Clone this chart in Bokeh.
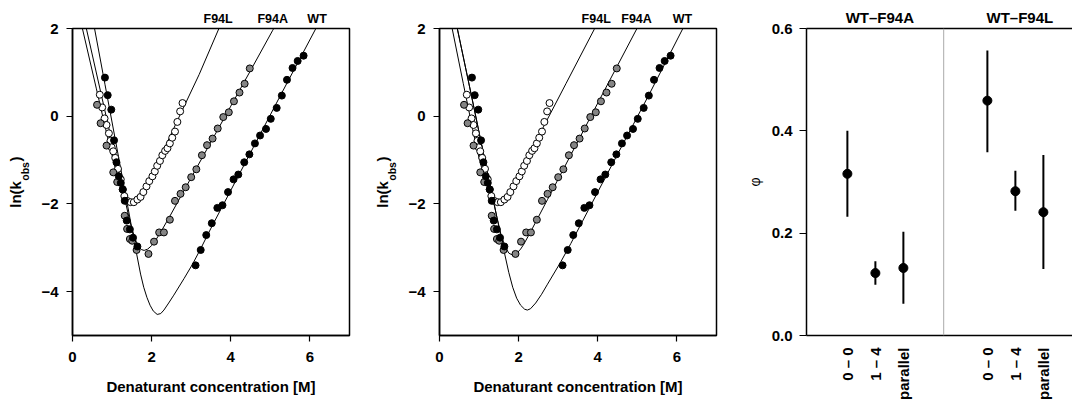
import math
from bokeh.plotting import figure
from bokeh.layouts import row
from bokeh.models import Range1d, FixedTicker, Span, LinearAxis, PrintfTickFormatter
from bokeh.embed import file_html
from bokeh.resources import INLINE

FONT = "Liberation Sans"

# ---------------- kinetics data (same measurements in both chevron panels) ----------------
wt_x = [0.82, 0.89, 0.98, 1.05, 1.11, 1.17, 1.22, 1.27, 1.32, 1.37, 1.45, 1.53, 1.64,
        3.11, 3.24, 3.38, 3.52, 3.66, 3.79, 3.93, 4.07, 4.19, 4.34, 4.47, 4.61, 4.74,
        4.89, 5.01, 5.16, 5.29, 5.42, 5.56, 5.69, 5.84]
wt_y = [0.88, 0.48, 0.15, -0.55, -1.05, -1.37, -1.52, -1.67, -1.93, -2.38, -2.58, -2.77, -2.97,
        -3.40, -3.05, -2.71, -2.44, -2.09, -2.03, -1.73, -1.44, -1.33, -1.05, -0.87, -0.62, -0.44,
        -0.29, -0.06, 0.19, 0.47, 0.83, 1.10, 1.26, 1.38]

f94a_x = [0.62, 0.71, 0.86, 1.03, 1.13, 1.32, 1.38, 1.45, 1.51, 1.62, 1.92, 2.06, 2.19, 2.31,
          2.46, 2.59, 2.73, 2.86, 3.00, 3.13, 3.27, 3.40, 3.54, 3.67, 3.81, 3.95, 4.08, 4.22,
          4.35, 4.48]
f94a_y = [0.26, -0.16, -0.67, -1.28, -1.50, -2.27, -2.57, -2.80, -2.84, -3.05, -3.14, -2.86, -2.65, -2.65,
          -2.36, -1.93, -1.77, -1.62, -1.39, -1.21, -0.89, -0.66, -0.51, -0.28, -0.02, 0.09, 0.34, 0.54,
          0.74, 1.09]

f94l_x = [0.69, 0.75, 0.81, 0.86, 0.92, 0.96, 0.99, 1.03, 1.08, 1.15, 1.22, 1.27, 1.31, 1.38,
          1.47, 1.55, 1.64, 1.72, 1.79, 1.87, 1.94, 2.02, 2.08, 2.14, 2.21, 2.27, 2.34, 2.40,
          2.46, 2.52, 2.59, 2.65, 2.72, 2.78]
f94l_y = [0.49, 0.20, -0.05, -0.20, -0.39, -0.56, -0.71, -0.80, -0.95, -1.20, -1.44, -1.67, -1.82, -1.93,
          -1.96, -1.96, -1.90, -1.84, -1.73, -1.60, -1.48, -1.37, -1.26, -1.13, -1.02, -0.89, -0.79, -0.73,
          -0.62, -0.49, -0.35, -0.13, 0.11, 0.30]

# ---------------- fitted curves, panel 1 ----------------
fit1_wt_x = [0.50, 0.557, 0.82, 1.10, 1.37, 1.595, 1.72, 1.80, 1.88, 1.96, 2.04, 2.14, 2.23, 2.31,
             2.43, 2.56, 2.82, 3.03, 3.24, 3.49, 3.75, 4.50, 5.30, 6.15, 6.30]
fit1_wt_y = [2.28, 2.00, 0.73, -0.62, -1.93, -3.02, -3.60, -3.90, -4.13, -4.31, -4.44, -4.52, -4.50, -4.42,
             -4.26, -4.08, -3.70, -3.38, -3.02, -2.57, -2.12, -0.83, 0.55, 2.00, 2.26]
fit1_a_x = [0.30, 0.35, 0.80, 1.20, 1.45, 1.58, 1.66, 1.74, 1.81, 1.90, 2.00, 2.10, 2.25, 2.46,
            3.00, 4.00, 4.48, 5.06, 5.20]
fit1_a_y = [2.20, 2.00, 0.20, -1.40, -2.40, -2.80, -2.96, -3.04, -3.06, -3.03, -2.95, -2.83, -2.61, -2.28,
            -1.40, 0.23, 1.01, 1.96, 2.19]
fit1_l_x = [0.22, 0.25, 0.60, 0.85, 1.00, 1.10, 1.20, 1.30, 1.40, 1.50, 1.60, 1.70, 1.85, 2.00,
            2.30, 2.65, 3.20, 3.70, 3.80]
fit1_l_y = [2.12, 2.00, 0.64, -0.34, -0.90, -1.25, -1.55, -1.77, -1.90, -1.96, -1.94, -1.84, -1.62, -1.36,
            -0.78, -0.10, 0.95, 2.00, 2.21]

# ---------------- fitted curves, panel 2 ----------------
fit2_wt_x = [0.40, 0.45, 0.80, 1.10, 1.30, 1.50, 1.63, 1.75, 1.85, 1.95, 2.05, 2.15, 2.22, 2.30,
             2.43, 2.58, 2.73, 3.06, 3.32, 3.57, 4.41, 5.30, 6.15, 6.30]
fit2_wt_y = [2.22, 2.00, 0.50, -0.80, -1.66, -2.52, -3.07, -3.56, -3.90, -4.15, -4.31, -4.40, -4.42, -4.39,
             -4.26, -4.06, -3.83, -3.33, -2.90, -2.47, -1.02, 0.50, 2.00, 2.26]
fit2_a_x = [0.40, 0.45, 0.80, 1.10, 1.30, 1.45, 1.55, 1.65, 1.75, 1.85, 1.95, 2.05, 2.13, 2.30,
            2.73, 3.32, 4.00, 4.99, 5.10]
fit2_a_y = [2.22, 2.00, 0.50, -0.80, -1.66, -2.30, -2.68, -2.96, -3.12, -3.17, -3.13, -3.03, -2.92, -2.64,
            -1.90, -0.88, 0.30, 2.00, 2.19]
fit2_l_x = [0.28, 0.32, 0.60, 0.85, 1.00, 1.10, 1.20, 1.30, 1.40, 1.50, 1.60, 1.70, 1.85, 2.00,
            2.18, 2.56, 3.20, 3.91, 4.00]
fit2_l_y = [2.18, 2.00, 0.75, -0.35, -0.95, -1.30, -1.58, -1.78, -1.91, -1.96, -1.93, -1.84, -1.62, -1.35,
            -1.03, -0.36, 0.75, 1.98, 2.14]

curve_names = ["F94L", "F94A", "WT"]
p1_name_x = [3.68, 5.06, 6.18]
p2_name_x = [3.96, 4.98, 6.14]

x_ticks = [0, 2, 4, 6]
y_ticks = [-4, -2, 0, 2]
y_tick_text = {2: "2", 0: "0", -2: "\u22122", -4: "\u22124"}

# y-axis title pieces: ln(k  obs  )
ytitle_main = ["ln(k", ")"]
ytitle_main_y = [-1.783, -0.977]
ytitle_sub = ["obs"]
ytitle_sub_y = [-1.258]

# ---------------- phi-value data ----------------
groups = ["WT\u2013F94A", "WT\u2013F94L"]
methods = ["0 \u2013 0", "1 \u2013 4", "parallel"]
phi_f94a = [0.316, 0.122, 0.132]
lo_f94a = [0.232, 0.099, 0.062]
hi_f94a = [0.400, 0.145, 0.203]
phi_f94l = [0.459, 0.282, 0.241]
lo_f94l = [0.358, 0.244, 0.130]
hi_f94l = [0.557, 0.322, 0.353]
phi_ticks = [0.0, 0.2, 0.4, 0.6]

H = 403
TOP = 28
BOTTOM = 66


def style_axis(ax, size="15px"):
    ax.major_label_text_font = FONT
    ax.major_label_text_font_style = "bold"
    ax.major_label_text_font_size = size
    ax.major_label_text_color = "black"
    ax.axis_line_color = "black"
    ax.axis_line_width = 1.5
    ax.major_tick_line_color = "black"
    ax.major_tick_line_width = 1.2
    ax.major_tick_in = 0
    ax.major_tick_out = 6
    ax.minor_tick_line_color = None
    ax.axis_label_text_font = FONT
    ax.axis_label_text_font_style = "bold"
    ax.axis_label_text_font_size = "15px"
    ax.axis_label_text_color = "black"


def text_axis(ticks, texts, size, standoff, orientation="horizontal", line=False):
    ax = LinearAxis(ticker=FixedTicker(ticks=ticks),
                    major_label_overrides=dict(zip(ticks, texts)))
    style_axis(ax, size)
    ax.major_tick_out = 0
    ax.major_tick_line_color = None
    if not line:
        ax.axis_line_color = None
    ax.major_label_standoff = standoff
    ax.major_label_orientation = orientation
    return ax


def chevron_panel(width, left, right, fits, name_x):
    p = figure(width=width, height=H, x_range=Range1d(0, 7), y_range=Range1d(-5, 2),
               output_backend="svg", toolbar_location=None,
               min_border_left=left, min_border_right=right,
               min_border_top=TOP, min_border_bottom=BOTTOM)
    p.grid.visible = False
    p.outline_line_color = "black"
    p.outline_line_width = 1.5
    p.background_fill_color = "white"
    p.border_fill_color = "white"
    xax = p.below[0]
    yax = p.left[0]
    style_axis(xax)
    style_axis(yax)
    xax.ticker = FixedTicker(ticks=x_ticks)
    yax.ticker = FixedTicker(ticks=y_ticks)
    yax.major_label_overrides = y_tick_text
    xax.major_label_standoff = 10
    yax.major_label_standoff = 8
    xax.axis_label = "Denaturant concentration [M]"
    xax.axis_label_standoff = 13

    # y title: subscript axis nearest the frame, main text just outside it
    p.add_layout(text_axis(ytitle_sub_y, ytitle_sub, "10.5px", 7, "vertical"), "left")
    p.add_layout(text_axis(ytitle_main_y, ytitle_main, "15px", -8, "vertical"), "left")

    # curve names above the frame
    p.add_layout(text_axis(name_x, curve_names, "12.5px", 3), "above")

    for fx, fy in fits:
        p.line(fx, fy, line_color="black", line_width=1)

    p.scatter(f94l_x, f94l_y, size=7, fill_color="white", line_color="black", line_width=1)
    p.scatter(f94a_x, f94a_y, size=7, fill_color="#858585", line_color="black", line_width=1)
    p.scatter(wt_x, wt_y, size=7, fill_color="black", line_color="black", line_width=1)
    return p


p1 = chevron_panel(360, 72, 11,
                   [(fit1_l_x, fit1_l_y), (fit1_a_x, fit1_a_y), (fit1_wt_x, fit1_wt_y)],
                   p1_name_x)
p2 = chevron_panel(370, 79, 14,
                   [(fit2_l_x, fit2_l_y), (fit2_a_x, fit2_a_y), (fit2_wt_x, fit2_wt_y)],
                   p2_name_x)

# ---------------- phi panel ----------------
p3 = figure(width=342, height=H, x_range=Range1d(-0.46, 9.04), y_range=Range1d(0, 0.6),
            output_backend="svg", toolbar_location=None,
            min_border_left=76, min_border_right=0, min_border_top=TOP, min_border_bottom=BOTTOM)
p3.grid.visible = False
p3.outline_line_color = None
p3.background_fill_color = "white"
p3.border_fill_color = "white"

group_base = [1, 6]
cat_x = []
for b in group_base:
    for i in range(len(methods)):
        cat_x.append(b + i)

bx = p3.below[0]
style_axis(bx)
bx.ticker = FixedTicker(ticks=cat_x)
bx.major_label_overrides = {cx: methods[i % 3] for i, cx in enumerate(cat_x)}
bx.major_label_orientation = math.pi / 2
bx.major_tick_out = 0
bx.major_tick_line_color = None
bx.major_label_standoff = 12

ly = p3.left[0]
style_axis(ly)
ly.ticker = FixedTicker(ticks=phi_ticks)
ly.formatter = PrintfTickFormatter(format="%.1f")
ly.major_tick_out = 7
ly.major_label_standoff = 7
ly.axis_label = "\u03c6"
ly.axis_label_text_font_style = "normal"
ly.axis_label_text_font_size = "14px"
ly.axis_label_standoff = 6

group_title_x = [b + 1.16 for b in group_base]
p3.add_layout(text_axis(group_title_x, groups, "15px", 3, line=True), "above")

p3.add_layout(Span(location=4.44, dimension="height", line_color="#aaaaaa", line_width=1))

phi_all = phi_f94a + phi_f94l
lo_all = lo_f94a + lo_f94l
hi_all = hi_f94a + hi_f94l
p3.segment(x0=cat_x, y0=lo_all, x1=cat_x, y1=hi_all, line_color="black", line_width=2)
p3.scatter(cat_x, phi_all, size=9, fill_color="black", line_color="black")

layout = row(p1, p2, p3)
open("out.html", "w").write(file_html(layout, INLINE))
